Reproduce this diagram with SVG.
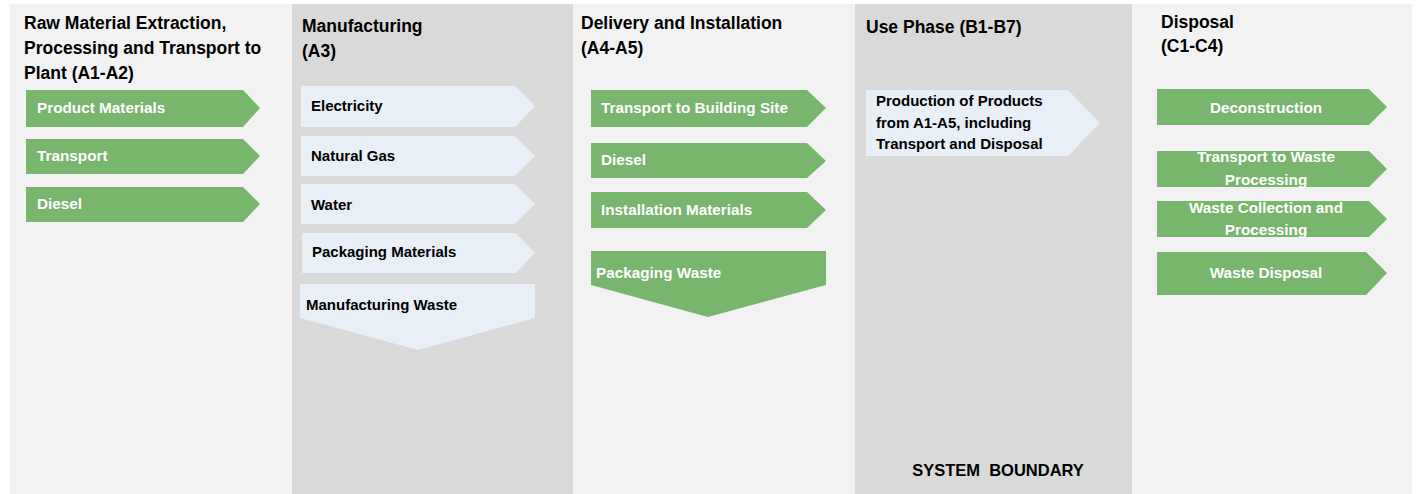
<svg xmlns="http://www.w3.org/2000/svg" width="1416" height="494" viewBox="0 0 1416 494">
<style>
.light{fill:#f2f2f2}
.dark{fill:#d9d9d9}
.g{fill:#78b56d}
.b{fill:#e8eff7}
.t{font-family:"Liberation Sans",Arial,sans-serif;font-weight:bold;font-size:17.5px;fill:#000}
.wt{font-family:"Liberation Sans",Arial,sans-serif;font-weight:bold;font-size:15.3px;fill:#fff}
.bt{font-family:"Liberation Sans",Arial,sans-serif;font-weight:bold;font-size:15px;fill:#000}
.c{text-anchor:middle}
</style>
<rect width="1416" height="494" fill="#ffffff"/>
<g id="columns">
<rect class="light" x="10" y="4" width="282" height="490"/>
<rect class="dark" x="292" y="4" width="281" height="490"/>
<rect class="light" x="573" y="4" width="282" height="490"/>
<rect class="dark" x="855" y="4" width="277" height="490"/>
<rect class="light" x="1132" y="4" width="280" height="490"/>
</g>
<g id="titles">
<text class="t" x="24" y="29">Raw Material Extraction,</text>
<text class="t" x="24" y="54">Processing and Transport to</text>
<text class="t" x="24" y="79">Plant (A1-A2)</text>
<text class="t" x="302" y="32">Manufacturing</text>
<text class="t" x="302" y="57">(A3)</text>
<text class="t" x="581" y="29">Delivery and Installation</text>
<text class="t" x="581" y="54">(A4-A5)</text>
<text class="t" x="866" y="33">Use Phase (B1-B7)</text>
<text class="t" x="1161" y="28">Disposal</text>
<text class="t" x="1161" y="52">(C1-C4)</text>
<text class="bt" x="998" y="476" style="font-size:16.5px" text-anchor="middle">SYSTEM&#160; BOUNDARY</text>
</g>
<g id="connectors"></g>
<g id="n-product-materials">
<polygon class="g" points="26,90 243,90 260,108 243,127 26,127"/>
<text class="wt" x="37" y="113">Product Materials</text>
</g>
<g id="n-transport">
<polygon class="g" points="26,139 243,139 260,156 243,174 26,174"/>
<text class="wt" x="37" y="161">Transport</text>
</g>
<g id="n-diesel-1">
<polygon class="g" points="26,187 243,187 260,204 243,222 26,222"/>
<text class="wt" x="37" y="209">Diesel</text>
</g>
<g id="n-electricity">
<polygon class="b" points="301,86 515,86 535,106 515,127 301,127"/>
<text class="bt" x="311" y="111">Electricity</text>
</g>
<g id="n-natural-gas">
<polygon class="b" points="301,136 515,136 535,156 515,176 301,176"/>
<text class="bt" x="311" y="161">Natural Gas</text>
</g>
<g id="n-water">
<polygon class="b" points="301,184 515,184 535,204 515,224 301,224"/>
<text class="bt" x="311" y="210">Water</text>
</g>
<g id="n-packaging-materials">
<polygon class="b" points="302,233 516,233 535,253 516,273 302,273"/>
<text class="bt" x="312" y="257">Packaging Materials</text>
</g>
<g id="n-manufacturing-waste">
<polygon class="b" points="300,284 535,284 535,318 418,350 300,318"/>
<text class="bt" x="306" y="310">Manufacturing Waste</text>
</g>
<g id="n-transport-site">
<polygon class="g" points="591,90 807,90 826,108 807,127 591,127"/>
<text class="wt" x="601" y="113">Transport to Building Site</text>
</g>
<g id="n-diesel-2">
<polygon class="g" points="591,143 807,143 826,161 807,178 591,178"/>
<text class="wt" x="601" y="165">Diesel</text>
</g>
<g id="n-installation-materials">
<polygon class="g" points="591,192 807,192 826,210 807,228 591,228"/>
<text class="wt" x="601" y="215">Installation Materials</text>
</g>
<g id="n-packaging-waste">
<polygon class="g" points="591,251 826,251 826,285 708,317 591,285"/>
<text class="wt" x="596" y="278">Packaging Waste</text>
</g>
<g id="n-production">
<polygon class="b" points="866,90 1068,90 1100,123 1068,156 866,156"/>
<text class="bt" x="876" y="106">Production of Products</text>
<text class="bt" x="876" y="128">from A1-A5, including</text>
<text class="bt" x="876" y="149">Transport and Disposal</text>
</g>
<g id="n-deconstruction">
<polygon class="g" points="1157,89 1369,89 1387,107 1369,125 1157,125"/>
<text class="wt c" x="1266" y="113">Deconstruction</text>
</g>
<g id="n-transport-waste">
<polygon class="g" points="1157,151 1369,151 1387,169 1369,187 1157,187"/>
<text class="wt c" x="1266" y="162">Transport to Waste</text>
<text class="wt c" x="1266" y="185">Processing</text>
</g>
<g id="n-waste-collection">
<polygon class="g" points="1157,201 1369,201 1387,219 1369,237 1157,237"/>
<text class="wt c" x="1266" y="213">Waste Collection and</text>
<text class="wt c" x="1266" y="235">Processing</text>
</g>
<g id="n-waste-disposal">
<polygon class="g" points="1157,252 1366,252 1387,273 1366,295 1157,295"/>
<text class="wt c" x="1266" y="278">Waste Disposal</text>
</g>
</svg>
